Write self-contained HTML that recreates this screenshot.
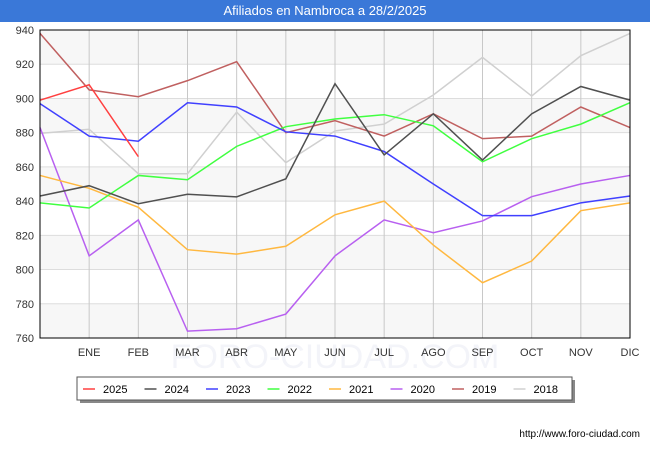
<!DOCTYPE html>
<html><head><meta charset="utf-8"><style>
body{margin:0;width:650px;height:450px;background:#fff;font-family:"Liberation Sans",sans-serif;overflow:hidden}
#title{position:absolute;left:0;top:0;width:650px;height:22px;background:#3a78d8;color:#fff;font-size:13px;text-align:center;line-height:22px}
svg{position:absolute;left:0;top:0}
</style></head><body>
<div id="title">Afiliados en Nambroca a 28/2/2025</div>
<svg id="c" width="650" height="450"></svg>
<script>
const months=["","ENE","FEB","MAR","ABR","MAY","JUN","JUL","AGO","SEP","OCT","NOV","DIC"];
const yTicks=[760,780,800,820,840,860,880,900,920,940];
const years=["2025","2024","2023","2022","2021","2020","2019","2018"];
const colors=["#ff4040","#505050","#4040ff","#40ff40","#ffb840","#b860f0","#c06060","#d0d0d0"];
const s2025=[899,908,866];
const s2024=[843,849,838.5,844,842.5,853,908.6,867,891,864,891,907,899];
const s2023=[897,878,875,897.5,895,880.5,878,869,850,831.5,831.5,839,843];
const s2022=[839,836,855,852.5,872,883.5,888,890.5,884,863,876.5,885,897.5];
const s2021=[855,847.5,836.4,811.6,809,813.6,832,840,814.3,792.3,805,834.4,839];
const s2020=[883,808,829,764,765.4,774,808,829,821.5,828.4,842.6,850,855];
const s2019=[938,905,901,910.4,921.5,880,887,878,891,876.5,878,895,883];
const s2018=[879.6,882,856,856,892,862.5,881,885,902,924,901.4,925,938];
const series=[s2025,s2024,s2023,s2022,s2021,s2020,s2019,s2018];
const L=40,R=630,T=30,B=338,ymin=760,ymax=940;
const xs=i=>L+i*(R-L)/12, ys=v=>B-(v-ymin)*(B-T)/(ymax-ymin);
const svg=document.getElementById('c');const NS="http://www.w3.org/2000/svg";
function mk(t,a,p){const e=document.createElementNS(NS,t);for(const k in a)e.setAttribute(k,a[k]);(p||svg).appendChild(e);return e;}
const wm=mk('text',{x:335,y:368,'text-anchor':'middle','font-size':34,fill:'#f3f4f9'});wm.textContent='FORO-CIUDAD.COM';


for(let i=0;i<yTicks.length-1;i++){if(i%2===0){const r=mk('rect',{x:L,y:ys(yTicks[i+1]),width:R-L,height:ys(yTicks[i])-ys(yTicks[i+1]),fill:'#f7f7f7'});}}
yTicks.forEach(v=>{const l=mk('line',{x1:L,x2:R,y1:ys(v),y2:ys(v),stroke:'#dddddd'});
const t=mk('text',{x:L-6,y:ys(v)+4,'text-anchor':'end','font-size':11,fill:'#333'});t.textContent=v;});
months.forEach((m,i)=>{if(i>0){const l=mk('line',{x1:xs(i),x2:xs(i),y1:T,y2:B,stroke:'#c8c8c8'});
const t=mk('text',{x:xs(i),y:B+18,'text-anchor':'middle','font-size':11,fill:'#333'});t.textContent=m;}});
for(let k=series.length-1;k>=0;k--){const p=mk('polyline',{points:series[k].map((v,i)=>xs(i)+','+ys(v)).join(' '),fill:'none',stroke:colors[k],'stroke-width':1.5});
}
const fr=mk('rect',{x:L,y:T,width:R-L,height:B-T,fill:'none',stroke:'#000'});
const lg=mk('g',{});
mk('rect',{x:80,y:380,width:495,height:23,fill:'#888'},lg);
mk('rect',{x:77,y:377,width:495,height:23,fill:'#fff',stroke:'#555'},lg);
years.forEach((y,k)=>{const g=mk('g',{},lg);
const x0=83+k*61.5;mk('line',{x1:x0,x2:x0+12,y1:389,y2:389,stroke:colors[k],'stroke-width':1.5},g);
const t=mk('text',{x:x0+20,y:393,'font-size':11,fill:'#000'},g);t.textContent=y;});
const u=mk('text',{x:640,y:437,'text-anchor':'end','font-size':10,fill:'#000'});u.textContent='http://www.foro-ciudad.com';
</script></body></html>
